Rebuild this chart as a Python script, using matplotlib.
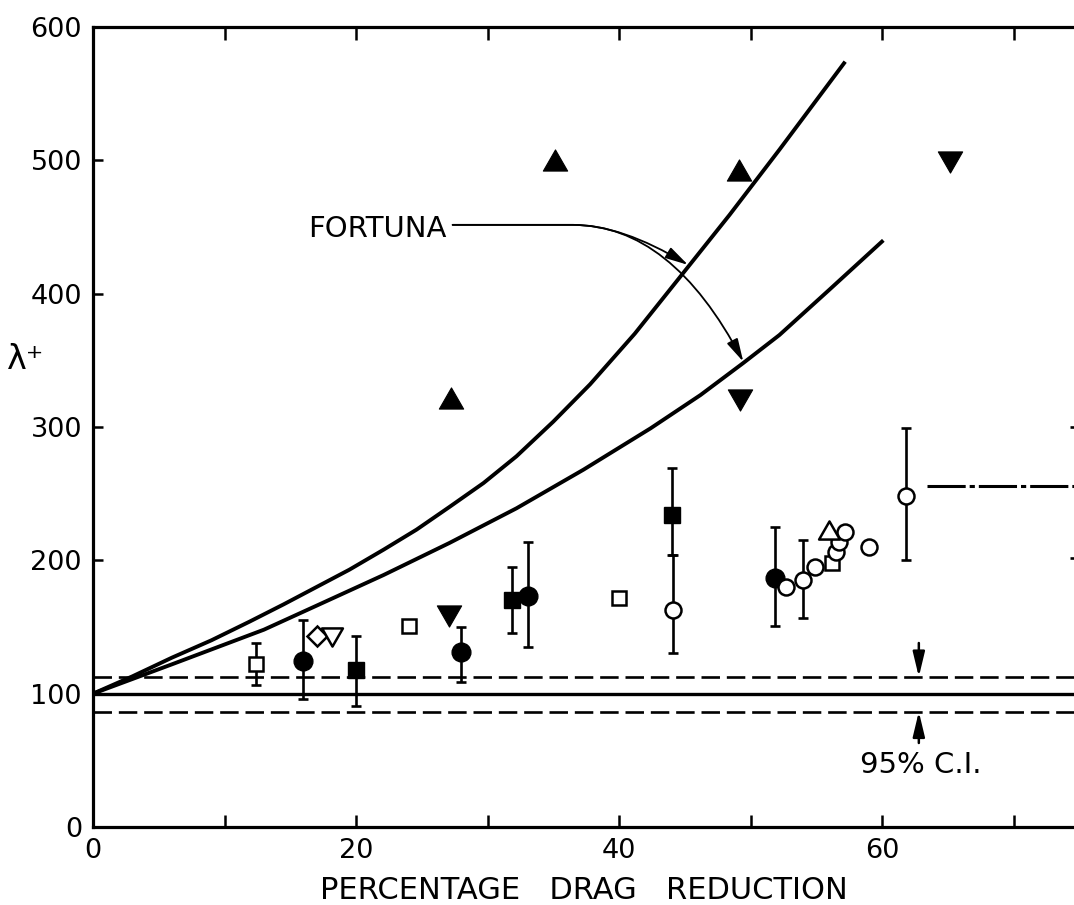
import matplotlib
matplotlib.use('Agg')
import matplotlib.pyplot as plt
from matplotlib.path import Path
from matplotlib.patches import FancyArrowPatch

plt.rcParams['font.family'] = ['DejaVu Sans']

# Fortuna curves
fortuna_hi_x = [0, 3, 6, 9, 11.9, 14.5, 17.0, 19.5, 22.1, 24.6, 27.1, 29.7, 32.2,
                35.0, 37.8, 41.2, 44.6, 48.4, 52.2, 54.7, 57.2]
fortuna_hi_y = [100, 113, 127, 140, 154, 167, 180, 193, 208, 223, 240, 258, 278,
                304, 332, 370, 412, 459, 508, 541, 574]
fortuna_lo_x = [0, 3, 6, 9.5, 13.0, 17.0, 22.1, 27.1, 32.2, 37.3, 42.4, 46.2,
                49.45, 52.2, 56.0, 60.1]
fortuna_lo_y = [100, 111, 122, 135, 148, 166, 189, 213, 239, 268, 299, 324,
                348, 369, 403, 440]

# data points, grouped by symbol
open_sq_x = [12.4, 24.0, 40.0, 56.2]
open_sq_y = [122, 151, 171.5, 198]
fill_sq_x = [20.0, 31.9, 44.0]
fill_sq_y = [118, 170.5, 234]
fill_ci_x = [16.0, 28.0, 33.1, 51.9]
fill_ci_y = [124.5, 131, 173, 187]
open_ci_x = [44.1, 52.7, 54.0, 54.9, 56.5, 56.7, 57.2, 59.0, 61.8]
open_ci_y = [163, 180, 185, 195, 206, 214, 221.5, 210, 248.5]
open_tri_x = [56.0]
open_tri_y = [223]
open_dia_x = [17.0]
open_dia_y = [143]
open_dtri_x = [18.15]
open_dtri_y = [142.5]
fill_tri_x = [27.2, 35.1, 49.1]
fill_tri_y = [322, 500, 493]
fill_dtri_x = [27.1, 49.2, 65.2]
fill_dtri_y = [158, 320, 499]

# error bars: x, centre, low, high (last one is cut by the right edge)
bar_x = [12.4, 16.0, 20.0, 28.0, 31.9, 33.1, 44.0, 44.1, 51.9, 54.0, 61.8, 74.7]
bar_y = [122, 124.5, 118, 131, 170.5, 173, 234, 163, 187, 185, 248.5, 251]
bar_lo = [106.5, 96, 91, 109, 145.7, 135, 204, 130.7, 151, 157, 200, 202]
bar_hi = [138, 155, 143, 150, 195, 214, 269.5, 204, 224.7, 215, 299, 300]

ref_level = 100
ci_upper = 112.6
ci_lower = 86.5
dashdot_level = 256

fig = plt.figure(figsize=(10.74, 9.05), dpi=100)
ax = fig.add_axes([93 / 1074, 78 / 905, 981 / 1074, 800 / 905])

# reference lines
ax.axhline(ref_level, color='k', lw=2.4, zorder=1)
ax.axhline(ci_upper, color='k', lw=1.9, dashes=(7, 2.6), zorder=1)
ax.axhline(ci_lower, color='k', lw=1.9, dashes=(7, 2.6), zorder=1)
ax.plot([63.4, 80], [dashdot_level, dashdot_level], color='k', lw=2.2,
        dashes=(12.5, 1.3, 1.7, 1.3), zorder=1)

# Fortuna curves
ax.plot(fortuna_hi_x, fortuna_hi_y, color='k', lw=2.8, solid_capstyle='butt',
        solid_joinstyle='round', zorder=2)
ax.plot(fortuna_lo_x, fortuna_lo_y, color='k', lw=2.8, solid_capstyle='butt',
        solid_joinstyle='round', zorder=2)

# error bars
yerr = [[y - lo for y, lo in zip(bar_y, bar_lo)],
        [hi - y for y, hi in zip(bar_y, bar_hi)]]
ax.errorbar(bar_x, bar_y, yerr=yerr, fmt='none', ecolor='k', elinewidth=1.9,
            capsize=3.6, capthick=1.9, zorder=2)

tri_up = Path([(-1, -0.87), (1, -0.87), (0, 0.87), (-1, -0.87)], closed=True)
tri_dn = Path([(-1, 0.87), (1, 0.87), (0, -0.87), (-1, 0.87)], closed=True)

mk = dict(ls='none', mec='k', zorder=3)
ax.plot(open_sq_x, open_sq_y, marker='s', ms=10, mfc='white', mew=1.8, **mk)
ax.plot(fill_sq_x, fill_sq_y, marker='s', ms=11.5, mfc='k', mew=1, **mk)
ax.plot(fill_ci_x, fill_ci_y, marker='o', ms=13.5, mfc='k', mew=1, **mk)
ax.plot(open_ci_x, open_ci_y, marker='o', ms=11.5, mfc='white', mew=1.8, **mk)
ax.plot(open_tri_x, open_tri_y, marker=tri_up, ms=15, mfc='white', mew=1.8, **mk)
ax.plot(open_dia_x, open_dia_y, marker='D', ms=10.5, mfc='white', mew=1.8, **mk)
ax.plot(open_dtri_x, open_dtri_y, marker=tri_dn, ms=15, mfc='white', mew=1.8, **mk)
ax.plot(fill_tri_x, fill_tri_y, marker=tri_up, ms=17.5, mfc='k', mew=0.8, **mk)
ax.plot(fill_dtri_x, fill_dtri_y, marker=tri_dn, ms=17.5, mfc='k', mew=0.8, **mk)

# FORTUNA label with its two curved arrows
ax.text(16.35, 442.8, 'FORTUNA', fontsize=21, ha='left', va='baseline')
arrow_style = '-|>,head_length=0.7,head_width=0.18'
p1 = Path([(27.35, 451.6), (36.5, 451.6), (40.2, 451.6), (45.25, 421.6)],
          [Path.MOVETO, Path.LINETO, Path.CURVE3, Path.CURVE3])
p2 = Path([(27.35, 451.6), (36.5, 451.6), (43.98, 451.6), (49.45, 349)],
          [Path.MOVETO, Path.LINETO, Path.CURVE3, Path.CURVE3])
for p in (p1, p2):
    ax.add_patch(FancyArrowPatch(path=p, arrowstyle=arrow_style, mutation_scale=20,
                                 lw=1.3, color='k', zorder=4))

# 95% confidence interval arrows
ci_style = dict(arrowstyle='-|>,head_length=0.75,head_width=0.18', lw=1.8,
                color='k', shrinkA=0, shrinkB=0, mutation_scale=20)
ax.annotate('', xy=(62.8, ci_upper), xytext=(62.8, 138), arrowprops=ci_style)
ax.annotate('', xy=(62.8, ci_lower), xytext=(62.8, 63), arrowprops=ci_style)
ax.text(62.97, 40.5, '95% C.I.', fontsize=21, ha='center', va='baseline')

ax.set_xlim(0, 74.6)
ax.set_ylim(0, 600)
ax.set_xticks(range(0, 71, 10))
ax.set_xticklabels(['0', '', '20', '', '40', '', '60', ''])
ax.set_yticks(range(0, 601, 100))
ax.tick_params(axis='x', direction='in', length=9, width=1.8, top=True,
               labelsize=19.5, pad=8)
ax.tick_params(axis='y', direction='in', length=7, width=1.8, right=False,
               labelsize=19.5, pad=8)
for side in ('left', 'bottom', 'top'):
    ax.spines[side].set_linewidth(2.3)
ax.spines['right'].set_visible(False)

ax.set_ylabel('λ⁺', rotation=0, fontsize=24, ha='center', va='center')
ax.yaxis.set_label_coords(-0.069, 0.585)
fig.text(0.5 * (93 + 1074) / 1074, (905 - 899) / 905, 'PERCENTAGE   DRAG   REDUCTION',
         fontsize=22, ha='center', va='baseline')

fig.savefig('out.png', dpi=100)
